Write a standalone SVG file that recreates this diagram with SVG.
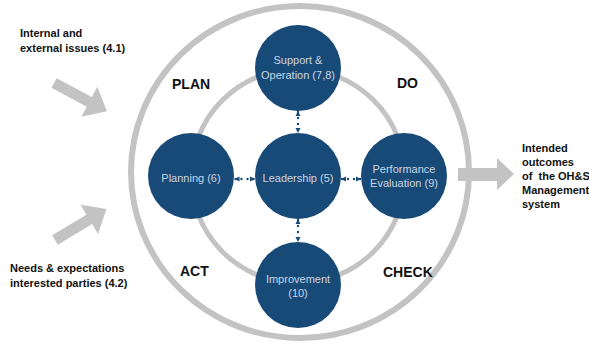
<svg xmlns="http://www.w3.org/2000/svg" width="589" height="344" viewBox="0 0 589 344">
<style>
.ring{fill:none;stroke:#c3c3c3}
.arrow{fill:#c3c3c3}
.node{fill:#184a78}
.nt{font-family:"Liberation Sans",Arial,sans-serif;font-size:11px;fill:#c9d5e2;text-anchor:middle}
.lbl{font-family:"Liberation Sans",Arial,sans-serif;font-size:11px;font-weight:bold;fill:#111}
.phase{font-family:"Liberation Sans",Arial,sans-serif;font-size:14px;font-weight:bold;fill:#111}
.conn{fill:none;stroke:#184a78;stroke-width:2.4;stroke-linecap:round;stroke-dasharray:0 6;stroke-dashoffset:5;marker-start:url(#ah);marker-end:url(#ah)}
</style>
<defs>
<marker id="ah" viewBox="0 0 6 6" refX="6" refY="3" markerUnits="userSpaceOnUse" markerWidth="5" markerHeight="6" orient="auto-start-reverse">
<path d="M0,0 L6,3 L0,6 z" fill="#184a78"/>
</marker>
<polygon id="blk" points="0,-5.5 40,-5.5 40,-17 60,0 40,17 40,5.5 0,5.5"/>
</defs>
<rect width="589" height="344" fill="#ffffff"/>
<g id="rings">
<ellipse class="ring" cx="300" cy="172" rx="169" ry="166" stroke-width="6"/>
<circle class="ring" cx="298" cy="176" r="107" stroke-width="5"/>
</g>
<g id="input-arrows">
<use href="#blk" class="arrow" transform="translate(54,83) rotate(28)"/>
<use href="#blk" class="arrow" transform="translate(55,240) rotate(-31)"/>
<polygon class="arrow" points="458,168 497,168 497,158 514,174 497,190 497,181 458,181"/>
</g>
<g id="connectors">
<path class="conn" d="M298,111 L298,133"/>
<path class="conn" d="M298,219 L298,242"/>
<path class="conn" d="M234.5,179 L255,179"/>
<path class="conn" d="M341,179 L361,179"/>
</g>
<g id="support">
<circle class="node" cx="298" cy="68" r="43"/>
<text class="nt" x="298" y="64">Support &amp;</text>
<text class="nt" x="298" y="79">Operation (7,8)</text>
</g>
<g id="planning">
<circle class="node" cx="191" cy="176" r="43"/>
<text class="nt" x="191" y="182">Planning (6)</text>
</g>
<g id="leadership">
<circle class="node" cx="298" cy="176" r="43"/>
<text class="nt" x="298" y="182">Leadership (5)</text>
</g>
<g id="performance">
<circle class="node" cx="404" cy="176" r="43"/>
<text class="nt" x="404" y="173">Performance</text>
<text class="nt" x="404" y="187">Evaluation (9)</text>
</g>
<g id="improvement">
<circle class="node" cx="298" cy="285" r="43"/>
<text class="nt" x="298" y="283">Improvement</text>
<text class="nt" x="298" y="297">(10)</text>
</g>
<g id="labels">
<text class="lbl" x="20" y="37">Internal and</text>
<text class="lbl" x="20" y="52">external issues (4.1)</text>
<text class="lbl" x="10" y="272">Needs &amp; expectations</text>
<text class="lbl" x="10" y="287">interested parties (4.2)</text>
<text class="lbl" x="522" y="152">Intended</text>
<text class="lbl" x="522" y="166">outcomes</text>
<text class="lbl" x="522" y="180" xml:space="preserve">of  the OH&amp;S</text>
<text class="lbl" x="522" y="194">Management</text>
<text class="lbl" x="522" y="208">system</text>
<text class="phase" x="172" y="89">PLAN</text>
<text class="phase" x="397" y="88">DO</text>
<text class="phase" x="180" y="276">ACT</text>
<text class="phase" x="383" y="277">CHECK</text>
</g>
</svg>
